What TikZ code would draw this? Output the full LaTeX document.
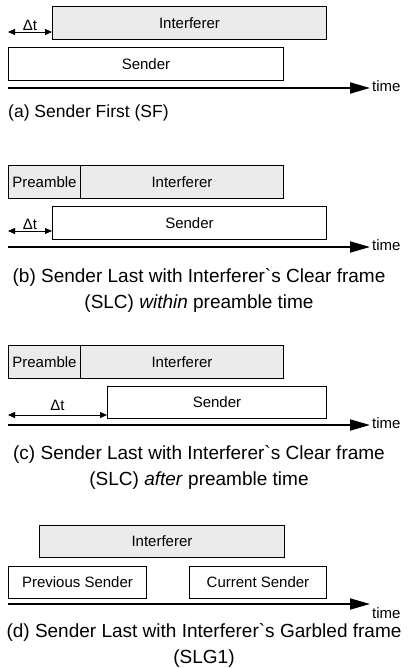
\documentclass[tikz,border=0pt]{standalone}
\usepackage{fontspec}
\setmainfont{Liberation Sans}[Ligatures=TeXOff]
\usetikzlibrary{arrows.meta}
\newcommand{\grv}{\symbol{96}}
\begin{document}
\begin{tikzpicture}[x=1pt,y=-1pt,
  bx/.style={draw, line width=0.9pt, inner sep=0pt, anchor=north west, font=\fontsize{15}{18}\selectfont},
  gbx/.style={bx, fill=black!8},
  axis/.style={line width=1.8pt, -{Triangle[length=20pt,width=11pt]}},
  dt/.style={line width=0.8pt, {Triangle[length=7pt,width=6pt]}-{Triangle[length=7pt,width=6pt]}},
  dtlab/.style={font=\fontsize{15}{18}\selectfont, inner sep=1pt},
  tlab/.style={font=\fontsize{15}{18}\selectfont, anchor=west, inner sep=0pt},
  captxt/.style={font=\fontsize{19}{26}\selectfont, align=center, inner sep=0pt}
]
\path[use as bounding box, fill=white] (0,0) rectangle (411,668);

% (a)
\node[gbx, minimum width=274pt, minimum height=33pt] (aI) at (52,6) {Interferer};
\node[bx, minimum width=275pt, minimum height=33pt] (aS) at (8,47) {Sender};
\coordinate (aD) at (8,32);
\draw[dt] (aD) -- (aI.west |- aD) node[dtlab, midway, above] (aDl) {Δt};
\coordinate (aA0) at (8,88); \coordinate (aA1) at (370,88);
\draw[axis] (aA0) -- (aA1);
\node[tlab] (aT) at (372,86) {time};
\node[captxt, font=\fontsize{17.5}{26}\selectfont, anchor=west] (aC) at (8,113) {(a) Sender First (SF)};

% (b)
\node[gbx, minimum width=72pt, minimum height=33pt] (bP) at (8,165) {Preamble};
\node[gbx, minimum width=203pt, minimum height=33pt] (bI) at (80,165) {Interferer};
\node[bx, minimum width=274pt, minimum height=33pt] (bS) at (52,206) {Sender};
\coordinate (bD) at (8,231);
\draw[dt] (bD) -- (bS.west |- bD) node[dtlab, midway, above] (bDl) {Δt};
\coordinate (bA0) at (8,247); \coordinate (bA1) at (370,247);
\draw[axis] (bA0) -- (bA1);
\node[tlab] (bT) at (372,245) {time};
\node[captxt] (bC) at (199,290) {(b) Sender Last with Interferer\grv s Clear frame\\(SLC) \textit{within} preamble time};

% (c)
\node[gbx, minimum width=72pt, minimum height=33pt] (cP) at (8,345) {Preamble};
\node[gbx, minimum width=203pt, minimum height=33pt] (cI) at (80,345) {Interferer};
\node[bx, minimum width=219pt, minimum height=32pt] (cS) at (107,386) {Sender};
\coordinate (cD) at (8,415);
\draw[dt] (cD) -- (cS.west |- cD) node[dtlab, midway, above=3pt] (cDl) {Δt};
\coordinate (cA0) at (8,425); \coordinate (cA1) at (370,425);
\draw[axis] (cA0) -- (cA1);
\node[tlab] (cT) at (372,423) {time};
\node[captxt] (cC) at (199,467) {(c) Sender Last with Interferer\grv s Clear frame\\(SLC) \textit{after} preamble time};

% (d)
\node[gbx, minimum width=245pt, minimum height=32pt] (dI) at (39,525) {Interferer};
\node[bx, minimum width=138pt, minimum height=32pt] (dP) at (8,566) {Previous Sender};
\node[bx, minimum width=137pt, minimum height=32pt] (dS) at (189,566) {Current Sender};
\coordinate (dA0) at (8,604); \coordinate (dA1) at (370,604);
\draw[axis] (dA0) -- (dA1);
\node[tlab] (dT) at (372,613) {time};
\node[captxt] (dC) at (204,645) {(d) Sender Last with Interferer\grv s Garbled frame\\(SLG1)};
\end{tikzpicture}
\end{document}
